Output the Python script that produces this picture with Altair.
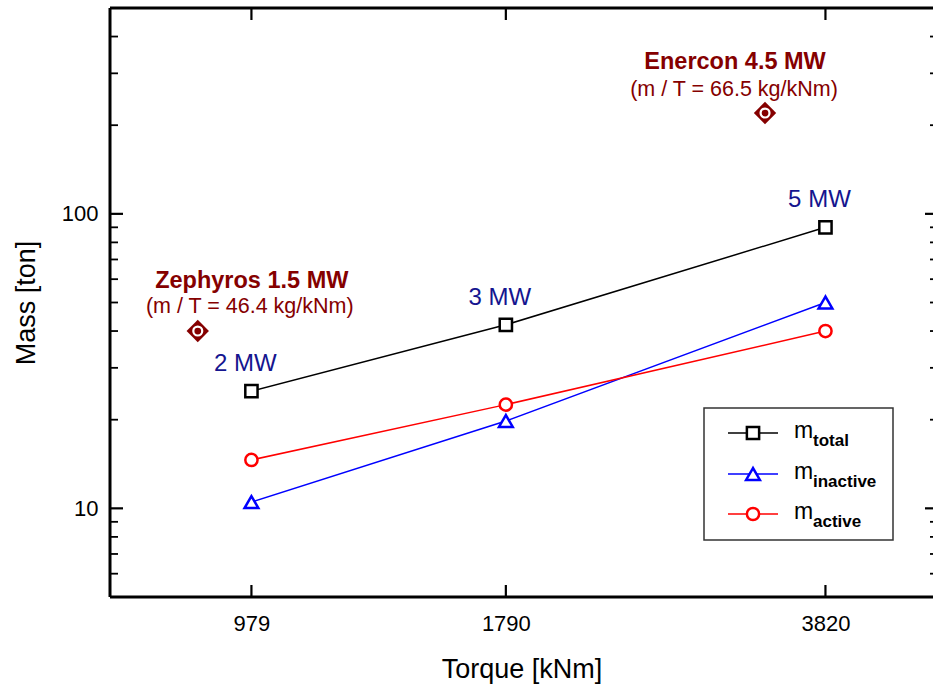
import altair as alt
import pandas as pd

# ---------------- data ----------------
torque = [979, 1790, 3820]
m_total = [25, 42, 90]
m_inactive = [10.5, 19.8, 50]
m_active = [14.6, 22.5, 40]
power_labels = ["2 MW", "3 MW", "5 MW"]

ref_names = ["Zephyros 1.5 MW", "Enercon 4.5 MW"]
ref_ratio = ["(m / T = 46.4 kg/kNm)", "(m / T = 66.5 kg/kNm)"]
ref_torque = [862, 3310]
ref_mass = [40, 220]

legend_main = ["m", "m", "m"]
legend_sub = ["total", "inactive", "active"]
series_colors = ["black", "#0000ff", "#ff0000"]
series_shapes = ["square", "triangle-up", "circle"]
series_sizes = [150, 190, 150]

y_major = [10, 100]
y_minor = [6, 7, 8, 9, 20, 30, 40, 50, 60, 70, 80, 90, 200, 300, 400]

# ---------------- style ----------------
W, H = 823, 589
FONT = "Arial"
MAROON = "#850000"
NAVY = "#15158f"

XS = alt.Scale(type="log", domain=[700, 4930], nice=False)
YS = alt.Scale(type="log", domain=[5, 500], nice=False)

x_axis = alt.Axis(values=torque, format="d", ticks=False, domain=False, grid=False,
                  labelFontSize=22, labelPadding=16, labelFlush=False,
                  title="Torque [kNm]", titleFontSize=27, titlePadding=22,
                  titleFontWeight="normal")
y_axis = alt.Axis(values=y_major, format="d", ticks=False, domain=False, grid=False,
                  labelFontSize=22, labelPadding=12,
                  title="Mass [ton]", titleFontSize=27, titlePadding=21,
                  titleFontWeight="normal")

X = alt.X("torque:Q", scale=XS, axis=x_axis)
Y = alt.Y("mass:Q", scale=YS, axis=y_axis)

layers = []
one = pd.DataFrame({"k": [0]})

# frame: left, top, bottom (right edge lies just outside the picture)
layers.append(alt.Chart(one).mark_rule(color="black", strokeWidth=3)
              .encode(x=alt.value(0), y=alt.value(0), y2=alt.value(H)))
layers.append(alt.Chart(one).mark_rule(color="black", strokeWidth=3)
              .encode(x=alt.value(0), x2=alt.value(W), y=alt.value(0)))
layers.append(alt.Chart(one).mark_rule(color="black", strokeWidth=3)
              .encode(x=alt.value(0), x2=alt.value(W), y=alt.value(H)))

# tick marks (inward)
df_xt = pd.DataFrame({"torque": torque})
layers.append(alt.Chart(df_xt).mark_rule(color="black", strokeWidth=2.2)
              .encode(x=X, y=alt.value(0), y2=alt.value(12)))
layers.append(alt.Chart(df_xt).mark_rule(color="black", strokeWidth=2.2)
              .encode(x=X, y=alt.value(H - 12), y2=alt.value(H)))
df_ymaj = pd.DataFrame({"mass": y_major})
df_ymin = pd.DataFrame({"mass": y_minor})
layers.append(alt.Chart(df_ymaj).mark_rule(color="black", strokeWidth=2.2)
              .encode(y=Y, x=alt.value(0), x2=alt.value(13)))
layers.append(alt.Chart(df_ymaj).mark_rule(color="black", strokeWidth=2.2)
              .encode(y=Y, x=alt.value(W - 8), x2=alt.value(W)))
layers.append(alt.Chart(df_ymin).mark_rule(color="black", strokeWidth=1.8)
              .encode(y=Y, x=alt.value(0), x2=alt.value(8)))
layers.append(alt.Chart(df_ymin).mark_rule(color="black", strokeWidth=1.8)
              .encode(y=Y, x=alt.value(W - 3), x2=alt.value(W)))

# series
for vals, col, shp, sz in zip([m_total, m_inactive, m_active], series_colors,
                              series_shapes, series_sizes):
    df = pd.DataFrame({"torque": torque, "mass": vals})
    base = alt.Chart(df).encode(x=X, y=Y)
    layers.append(base.mark_line(color=col, strokeWidth=1.5))
    layers.append(base.mark_point(shape=shp, size=sz, filled=True, fill="white",
                                  stroke=col, strokeWidth=2.5, opacity=1))

# power labels above total mass
df_pw = pd.DataFrame({"torque": torque, "mass": m_total, "label": power_labels})
layers.append(alt.Chart(df_pw).mark_text(font=FONT, fontSize=24, color=NAVY,
                                         dx=-6, dy=-27, baseline="middle")
              .encode(x=X, y=Y, text="label:N"))

# reference machines
df_ref = pd.DataFrame({"torque": ref_torque, "mass": ref_mass,
                       "name": ref_names, "ratio": ref_ratio})
rb = alt.Chart(df_ref).encode(x=X, y=Y)
layers.append(rb.mark_point(shape="diamond", size=500, filled=True, color=MAROON, opacity=1))
layers.append(rb.mark_point(shape="circle", size=80, filled=False, color="white",
                            strokeWidth=2.2, opacity=1))
layers.append(rb.mark_point(shape="circle", size=14, filled=True, color=MAROON, opacity=1))

offsets = [(54, -50, 52, -24), (-30, -51, -31, -23)]
for i, (ndx, ndy, rdx, rdy) in enumerate(offsets):
    d = df_ref.iloc[[i]]
    layers.append(alt.Chart(d).mark_text(font=FONT, fontSize=23.5, fontWeight="bold",
                                         color=MAROON, dx=ndx, dy=ndy, baseline="middle")
                  .encode(x=X, y=Y, text="name:N"))
    layers.append(alt.Chart(d).mark_text(font=FONT, fontSize=21.5, color=MAROON,
                                         dx=rdx, dy=rdy, baseline="middle")
                  .encode(x=X, y=Y, text="ratio:N"))

# manual legend (with subscripts)
layers.append(alt.Chart(one).mark_rect(fill="white", stroke="#333333", strokeWidth=1.5)
              .encode(x=alt.value(594), x2=alt.value(783), y=alt.value(400), y2=alt.value(532)))
row_y = [425, 466, 506]
for i in range(3):
    ry = row_y[i]
    layers.append(alt.Chart(one).mark_rule(color=series_colors[i], strokeWidth=1.5)
                  .encode(x=alt.value(618), x2=alt.value(668), y=alt.value(ry)))
    layers.append(alt.Chart(one).mark_point(shape=series_shapes[i], size=series_sizes[i],
                                            filled=True, fill="white",
                                            stroke=series_colors[i], strokeWidth=2.5, opacity=1)
                  .encode(x=alt.value(643), y=alt.value(ry)))
    layers.append(alt.Chart(one).mark_text(font=FONT, fontSize=23, color="black",
                                           align="left", baseline="alphabetic",
                                           text=legend_main[i])
                  .encode(x=alt.value(684), y=alt.value(ry + 5)))
    layers.append(alt.Chart(one).mark_text(font=FONT, fontSize=17, fontWeight="bold",
                                           color="black", align="left", baseline="alphabetic",
                                           text=legend_sub[i])
                  .encode(x=alt.value(703), y=alt.value(ry + 13)))

chart = alt.layer(*layers).properties(
    width=W, height=H,
    autosize=alt.AutoSizeParams(type="none"),
    padding={"left": 110, "top": 8, "right": 0, "bottom": 95},
).configure_view(strokeWidth=0
).configure_axis(labelFont=FONT, titleFont=FONT, labelColor="black", titleColor="black")

chart.save("out.html", embed_options={"renderer": "svg", "actions": False})
